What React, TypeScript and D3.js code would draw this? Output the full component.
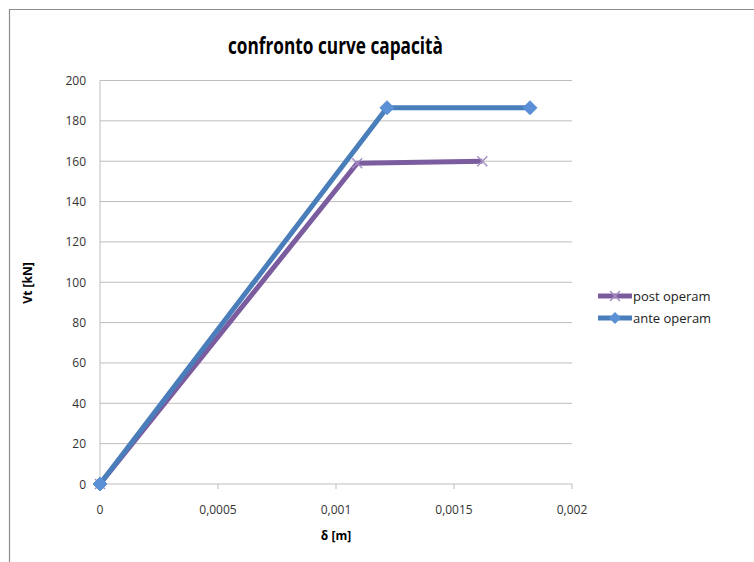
import React from "react";
import * as d3 from "d3";

const postX = [0, 0.00109, 0.00162];
const postY = [0, 159, 160];
const anteX = [0, 0.001216, 0.001822];
const anteY = [0, 186.5, 186.5];
const xTicks = [0, 0.0005, 0.001, 0.0015, 0.002];
const xTickLabels = ["0", "0,0005", "0,001", "0,0015", "0,002"];
const yTicks = [0, 20, 40, 60, 80, 100, 120, 140, 160, 180, 200];
const seriesNames = ["post operam", "ante operam"];

const W = 754, H = 562;
const FONT = "'Open Sans', 'Liberation Sans', sans-serif";

export default function App() {
  const x = d3.scaleLinear().domain([0, 0.002]).range([100, 572]);
  const y = d3.scaleLinear().domain([0, 200]).range([484, 80.5]);
  const line = d3.line<[number, number]>().x(d => x(d[0])).y(d => y(d[1]));
  const post: [number, number][] = postX.map((v, i) => [v, postY[i]]);
  const ante: [number, number][] = anteX.map((v, i) => [v, anteY[i]]);
  const postColor = "#7b5c9f";
  const anteColor = "#4a7ebb";
  const diamond = (cx: number, cy: number, r: number) =>
    `M${cx},${cy - r}L${cx + r},${cy}L${cx},${cy + r}L${cx - r},${cy}Z`;
  const cross = (cx: number, cy: number, r: number) =>
    `M${cx - r},${cy - r}L${cx + r},${cy + r}M${cx - r},${cy + r}L${cx + r},${cy - r}`;

  return (
    <svg width={W} height={H} style={{ position: "absolute", left: 0, top: 0, background: "#fff" }}>
      <rect x={0} y={0} width={W} height={H} fill="#fff" />
      <path d={`M9.5,${H}V9.5H${W}`} fill="none" stroke="#8c8c8c" strokeWidth={1.2} />
      <text x={228} y={54} textLength={215} lengthAdjust="spacingAndGlyphs" fontFamily={FONT} fontSize={24} fontWeight="bold" fill="#000">
        confronto curve capacità
      </text>
      {yTicks.map(t => (
        <g key={t}>
          <line x1={100} x2={572} y1={y(t)} y2={y(t)} stroke="#bdbdbd" strokeWidth={1} />
          <text x={86} y={y(t) + 4.5} textAnchor="end" fontFamily={FONT} fontSize={12} fill="#333">{t}</text>
        </g>
      ))}
      <line x1={100} x2={100} y1={80.5} y2={484} stroke="#bdbdbd" strokeWidth={1} />
      {xTicks.map((t, i) => (
        <g key={t}>
          <line x1={x(t)} x2={x(t)} y1={484} y2={489} stroke="#bdbdbd" strokeWidth={1} />
          <text x={x(t)} y={514} textAnchor="middle" fontFamily={FONT} fontSize={12} fill="#333">{xTickLabels[i]}</text>
        </g>
      ))}
      <text x={336} y={540} textAnchor="middle" fontFamily={FONT} fontSize={12} fontWeight="bold" fill="#000">δ [m]</text>
      <text transform="translate(32,283) rotate(-90)" textAnchor="middle" fontFamily={FONT} fontSize={12} fontWeight="bold" fill="#000">Vt [kN]</text>

      <path d={line(post) || ""} fill="none" stroke={postColor} strokeWidth={5} strokeLinejoin="round" />
      {post.map((p, i) => (
        <path key={i} d={cross(x(p[0]), y(p[1]), 5)} stroke="#a58fc4" strokeWidth={1.5} fill="none" />
      ))}
      <path d={line(ante) || ""} fill="none" stroke={anteColor} strokeWidth={5} strokeLinejoin="round" />
      {ante.map((p, i) => (
        <path key={i} d={diamond(x(p[0]), y(p[1]), 7)} fill="#5b8fd6" stroke="#5b8fd6" strokeWidth={1} />
      ))}

      {seriesNames.map((n, i) => {
        const ly = 296 + i * 22;
        const c = i === 0 ? postColor : anteColor;
        return (
          <g key={n}>
            <line x1={598} x2={632} y1={ly} y2={ly} stroke={c} strokeWidth={5} />
            {i === 0
              ? <path d={cross(615, ly, 5)} stroke="#a58fc4" strokeWidth={1.5} fill="none" />
              : <path d={diamond(615, ly, 6)} fill="#5b8fd6" />}
            <text x={633} y={ly + 4.5} fontFamily={FONT} fontSize={13} fill="#222">{n}</text>
          </g>
        );
      })}
    </svg>
  );
}
